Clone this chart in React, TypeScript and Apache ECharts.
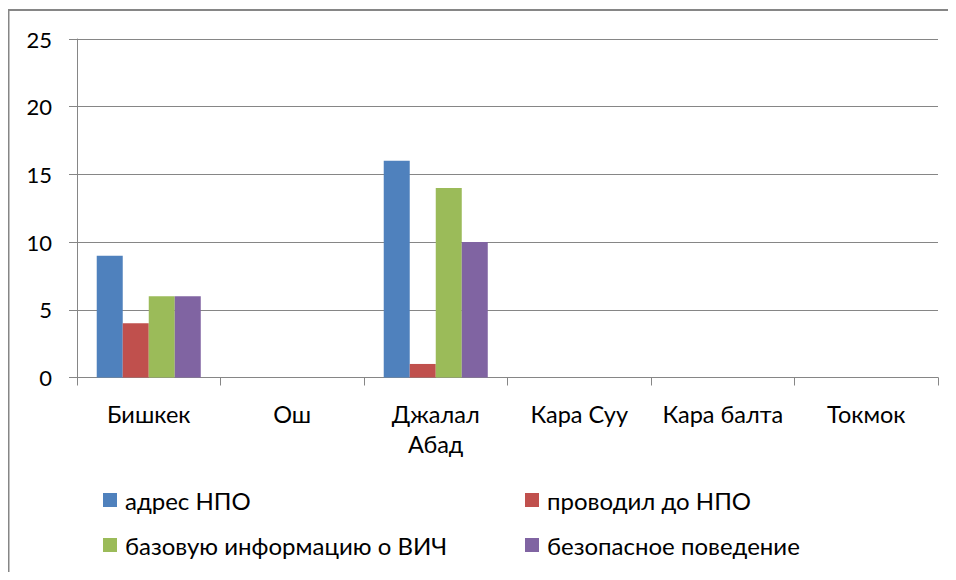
import React, { useEffect, useRef } from "react";
import * as echarts from "echarts";

const categories = ["Бишкек", "Ош", "Джалал\nАбад", "Кара Суу", "Кара балта", "Токмок"];
const seriesNames = ["адрес НПО", "проводил до НПО", "базовую информацию о ВИЧ", "безопасное поведение"];
const addressNGO = [9, 0, 16, 0, 0, 0];
const escortedNGO = [4, 0, 1, 0, 0, 0];
const basicHIV = [6, 0, 14, 0, 0, 0];
const safeBehavior = [6, 0, 10, 0, 0, 0];
const yTicks = [0, 5, 10, 15, 20, 25];

const colors = ["#4F81BD", "#C0504D", "#9BBB59", "#8064A2"];
const FONT = "Lato";

export default function App() {
  const ref = useRef<HTMLDivElement>(null);
  useEffect(() => {
    if (!ref.current) return;
    const chart = echarts.init(ref.current, null, { renderer: "svg" });
    const values = [addressNGO, escortedNGO, basicHIV, safeBehavior];
    const legendPos = [
      { left: 95, top: 480 },
      { left: 517, top: 480 },
      { left: 95, top: 525 },
      { left: 517, top: 525 },
    ];
    chart.setOption({
      animation: false,
      color: colors,
      textStyle: { fontFamily: FONT },
      graphic: [
        {
          type: "polyline",
          shape: { points: [[0.5, 600], [0.5, 2], [960, 2]] },
          style: { fill: "none", stroke: "#868686", lineWidth: 2 },
          silent: true,
        },
      ],
      legend: seriesNames.map((n, i) => ({
        data: [n],
        left: legendPos[i].left,
        top: legendPos[i].top,
        itemWidth: 14,
        itemHeight: 14,
        itemGap: 5,
        icon: "rect",
        textStyle: { fontFamily: FONT, fontSize: 24, lineHeight: 24, color: "#000", padding: [0, 0, 0, 3] },
        padding: 0,
      })),
      grid: { left: 69, right: 18, top: 31, bottom: 202.5, containLabel: false },
      xAxis: {
        type: "category",
        data: categories,
        axisLine: { lineStyle: { color: "#868686", width: 1 } },
        axisTick: { show: true, length: 8, lineStyle: { color: "#868686" } },
        axisLabel: {
          fontFamily: FONT,
          fontSize: 23.5,
          color: "#000",
          margin: 21,
          lineHeight: 30,
          interval: 0,
        },
      },
      yAxis: {
        type: "value",
        min: 0,
        max: 25,
        interval: 5,
        axisLine: { show: true, lineStyle: { color: "#868686", width: 1 } },
        axisTick: { show: true, length: 8, lineStyle: { color: "#868686" } },
        splitLine: { lineStyle: { color: "#868686", width: 1 } },
        axisLabel: {
          fontFamily: FONT,
          fontSize: 22,
          color: "#000",
          margin: 25,
          formatter: (v: number) => (yTicks.includes(v) ? String(v) : ""),
        },
      },
      series: seriesNames.map((n, i) => ({
        name: n,
        type: "bar",
        data: values[i],
        barGap: "0%",
        barCategoryGap: "27.5%",
        itemStyle: { color: colors[i] },
      })),
    });
    return () => chart.dispose();
  }, []);
  return <div ref={ref} style={{ width: 948, height: 572, marginBottom: -8 }} />;
}
